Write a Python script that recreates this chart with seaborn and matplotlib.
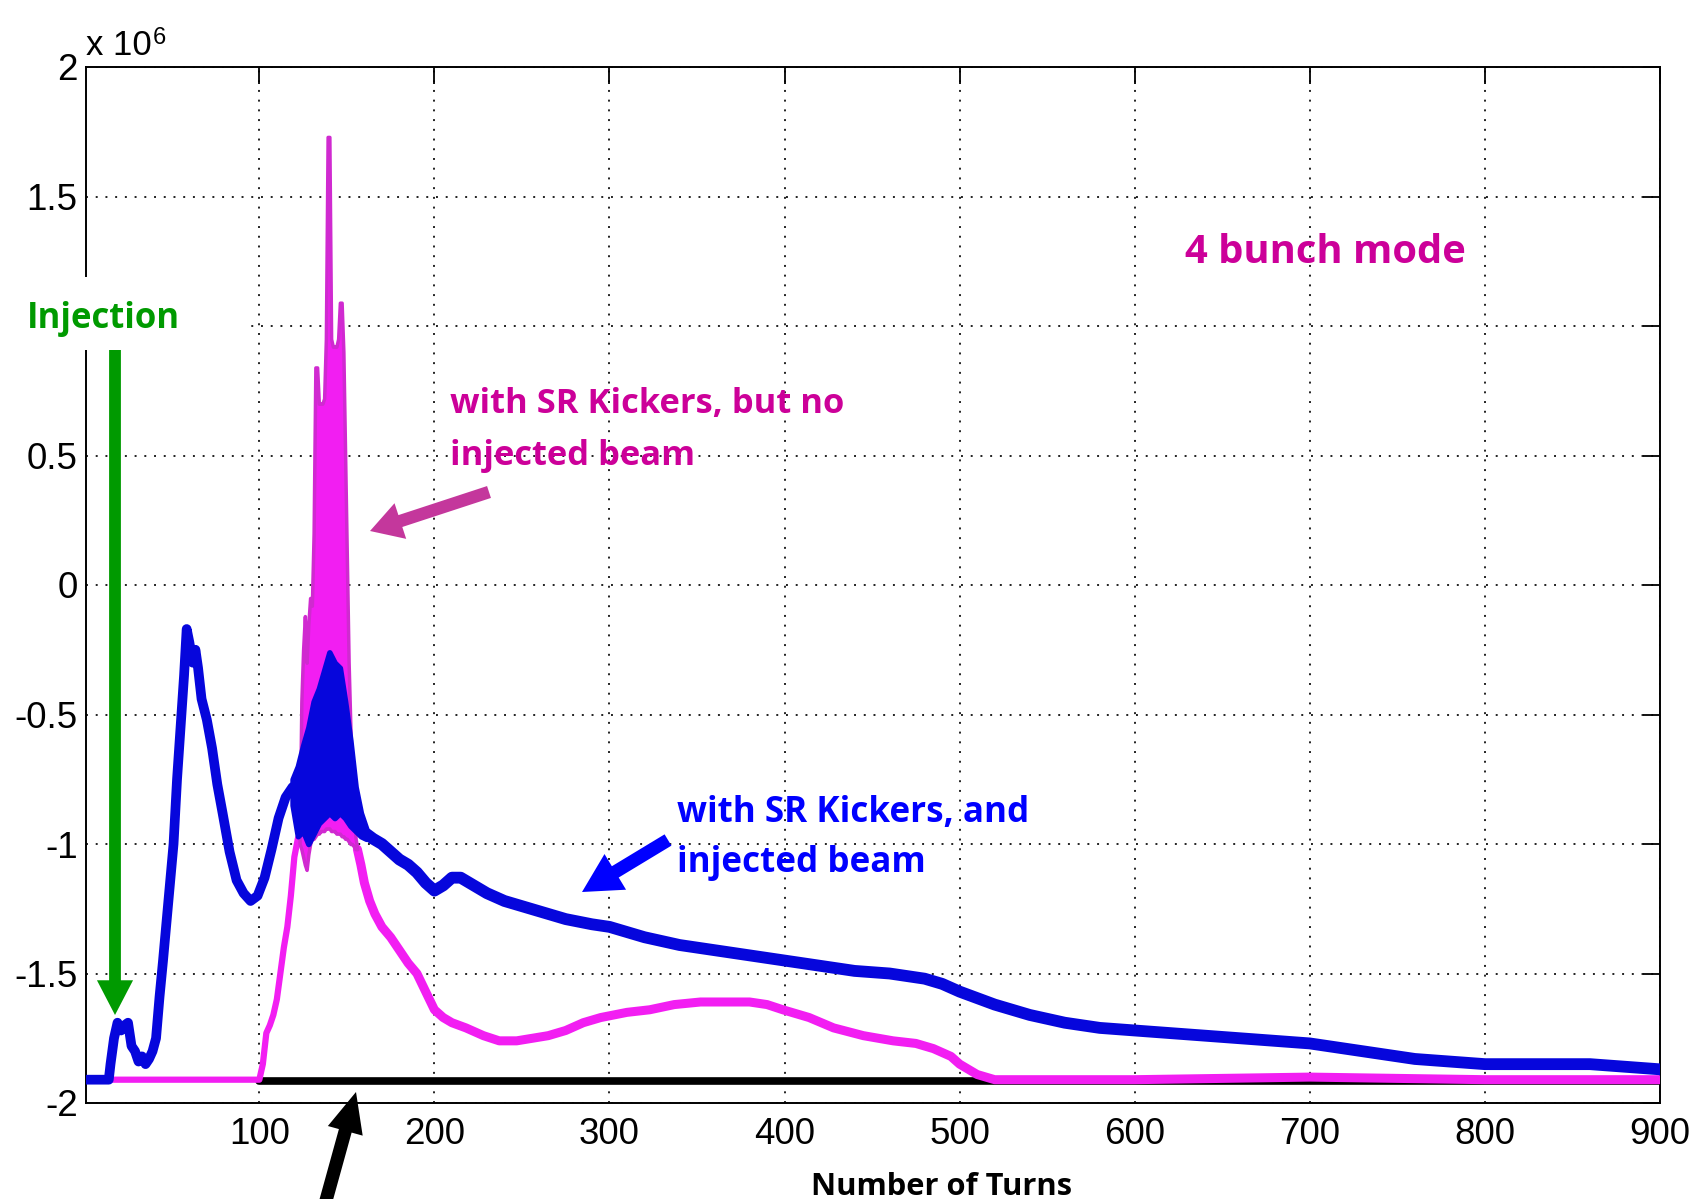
import matplotlib
matplotlib.use("Agg")
import matplotlib.pyplot as plt
import seaborn as sns
import pandas as pd
from matplotlib.patches import Rectangle, FancyArrowPatch

# ---------------- data (values in units of 1e6) ----------------
blue_turns = [1, 14, 15, 17, 19, 21, 23, 25, 27, 29, 31, 33, 35, 37, 39, 41, 43, 45, 47, 49,
              51, 53, 55, 57, 58.5, 60, 62, 63.5, 65, 67, 70, 73, 76, 79, 83, 87, 91, 95, 99,
              103, 107, 111, 115, 119]
blue_vals = [-1.91, -1.91, -1.85, -1.75, -1.69, -1.72, -1.70, -1.69, -1.78, -1.80, -1.84, -1.82,
             -1.85, -1.83, -1.80, -1.75, -1.59, -1.45, -1.30, -1.15, -1.00, -0.75, -0.55, -0.35,
             -0.17, -0.22, -0.30, -0.25, -0.32, -0.44, -0.52, -0.63, -0.77, -0.88, -1.03, -1.14,
             -1.19, -1.22, -1.20, -1.13, -1.02, -0.90, -0.82, -0.78]

blue_band_turns = [119, 122, 125, 128, 131, 134, 137, 140, 143, 146, 149, 152, 155, 158, 161]
blue_band_hi = [-0.75, -0.70, -0.62, -0.55, -0.45, -0.40, -0.33, -0.26, -0.30, -0.32, -0.45,
                -0.60, -0.78, -0.88, -0.94]
blue_band_lo = [-0.85, -0.97, -0.95, -1.00, -0.96, -0.92, -0.90, -0.88, -0.90, -0.88, -0.90,
                -0.93, -0.95, -0.97, -0.98]

blue_tail_turns = [161, 165, 170, 175, 180, 185, 190, 195, 200, 205, 210, 215, 220, 225, 230,
                   240, 250, 260, 275, 290, 300, 320, 340, 360, 380, 400, 420, 440, 460, 470,
                   480, 490, 500, 520, 540, 560, 580, 600, 620, 640, 660, 680, 700, 720, 740,
                   760, 780, 800, 820, 840, 860, 880, 900]
blue_tail_vals = [-0.96, -0.98, -1.00, -1.03, -1.06, -1.08, -1.11, -1.15, -1.18, -1.16, -1.13,
                  -1.13, -1.15, -1.17, -1.19, -1.22, -1.24, -1.26, -1.29, -1.31, -1.32, -1.36,
                  -1.39, -1.41, -1.43, -1.45, -1.47, -1.49, -1.50, -1.51, -1.52, -1.54, -1.57,
                  -1.62, -1.66, -1.69, -1.71, -1.72, -1.73, -1.74, -1.75, -1.76, -1.77, -1.79,
                  -1.81, -1.83, -1.84, -1.85, -1.85, -1.85, -1.85, -1.86, -1.87]

mag_turns = [1, 100, 102, 104, 106, 108, 110, 112, 114, 116, 118, 120, 122, 124]
mag_vals = [-1.91, -1.91, -1.85, -1.73, -1.70, -1.66, -1.60, -1.50, -1.40, -1.32, -1.20,
            -1.05, -0.98, -0.95]

mag_band_turns = [123, 124, 125, 126, 127, 128, 129, 130, 131, 132, 133, 134, 135, 136, 137,
                  138, 139, 140, 141, 142, 143, 144, 145, 146, 147, 148, 149, 150, 151, 152,
                  153, 154, 155, 156]
mag_band_hi = [-0.98, -0.45, -0.25, -0.12, -0.30, -0.15, -0.05, -0.08, 0.20, 0.84, 0.84, 0.70,
               0.70, 0.70, 0.72, 0.95, 1.73, 1.73, 0.95, 0.92, 0.92, 0.92, 0.95, 1.09, 1.09,
               0.90, 0.50, 0.10, -0.30, -0.55, -0.75, -0.88, -0.98, -1.02]
mag_band_lo = [-1.00, -1.02, -1.05, -1.08, -1.10, -1.04, -1.00, -0.98, -0.98, -0.97, -0.96,
               -0.96, -0.95, -0.95, -0.95, -0.94, -0.94, -0.94, -0.95, -0.95, -0.95, -0.96,
               -0.96, -0.96, -0.97, -0.97, -0.98, -0.98, -0.99, -1.00, -1.00, -1.01, -1.02,
               -1.02]

mag_tail_turns = [156, 158, 160, 163, 166, 170, 175, 180, 185, 190, 195, 200, 205, 210, 218,
                  228, 237, 247, 256, 265, 275, 285, 295, 310, 323, 337, 352, 366, 380, 390,
                  399, 414, 428, 445, 462, 475, 485, 495, 500, 505, 510, 515, 520, 540, 600,
                  700, 800, 900]
mag_tail_vals = [-1.02, -1.08, -1.15, -1.22, -1.27, -1.32, -1.36, -1.41, -1.46, -1.50, -1.57,
                 -1.64, -1.67, -1.69, -1.71, -1.74, -1.76, -1.76, -1.75, -1.74, -1.72, -1.69,
                 -1.67, -1.65, -1.64, -1.62, -1.61, -1.61, -1.61, -1.62, -1.64, -1.67, -1.71,
                 -1.74, -1.76, -1.77, -1.79, -1.82, -1.85, -1.87, -1.89, -1.90, -1.91, -1.91,
                 -1.91, -1.90, -1.91, -1.91]

black_turns = [100, 200, 300, 400, 500, 600, 700, 800, 900]
black_vals = [-1.915, -1.915, -1.915, -1.915, -1.915, -1.915, -1.915, -1.915, -1.915]

x_ticks = [100, 200, 300, 400, 500, 600, 700, 800, 900]
y_ticks = [-2, -1.5, -1, -0.5, 0, 0.5, 1, 1.5, 2]
# the "1" label is hidden behind the Injection label in the reference
y_tick_labels = ["-2", "-1.5", "-1", "-0.5", "0", "0.5", "", "1.5", "2"]

# ---------------- style ----------------
sns.set_theme(style="white")
plt.rcParams["font.family"] = ["Liberation Sans", "DejaVu Sans"]

W, H = 1692, 1199
fig = plt.figure(figsize=(W / 100, H / 100), dpi=100)
fig.patch.set_facecolor("white")


def fx(x):
    return x / W


def fy(y):
    return 1 - y / H


ax = fig.add_axes([fx(86), fy(1103), (1660 - 86) / W, (1103 - 67) / H])
ax.set_facecolor("white")

BLUE = "#0606DC"
MAG = "#F21EF2"
MAG_EDGE = "#D02AD0"

blue_df = pd.DataFrame({"turn": blue_turns, "value": blue_vals})
blue_tail_df = pd.DataFrame({"turn": blue_tail_turns, "value": blue_tail_vals})
mag_df = pd.DataFrame({"turn": mag_turns, "value": mag_vals})
mag_tail_df = pd.DataFrame({"turn": mag_tail_turns, "value": mag_tail_vals})
black_df = pd.DataFrame({"turn": black_turns, "value": black_vals})

sns.lineplot(data=black_df, x="turn", y="value", color="black", linewidth=5.5,
             estimator=None, sort=False, ax=ax, legend=False, zorder=2)

sns.lineplot(data=mag_df, x="turn", y="value", color=MAG, linewidth=4.5,
             estimator=None, sort=False, ax=ax, legend=False, zorder=3)
sns.lineplot(data=mag_tail_df, x="turn", y="value", color=MAG, linewidth=6.5,
             estimator=None, sort=False, ax=ax, legend=False, zorder=3)
ax.fill_between(mag_band_turns, mag_band_lo, mag_band_hi, facecolor=MAG,
                edgecolor=MAG_EDGE, linewidth=2.5, zorder=3)

sns.lineplot(data=blue_df, x="turn", y="value", color=BLUE, linewidth=7,
             estimator=None, sort=False, ax=ax, legend=False, zorder=4)
sns.lineplot(data=blue_tail_df, x="turn", y="value", color=BLUE, linewidth=8.5,
             estimator=None, sort=False, ax=ax, legend=False, zorder=4)
ax.fill_between(blue_band_turns, blue_band_lo, blue_band_hi, facecolor=BLUE,
                edgecolor=BLUE, linewidth=4, zorder=4)

ax.set_xlim(1, 900)
ax.set_ylim(-2, 2)
ax.set_xticks(x_ticks)
ax.set_xticklabels([str(t) for t in x_ticks])
ax.set_yticks(y_ticks)
ax.set_yticklabels(y_tick_labels)
ax.set_xlabel("")
ax.set_ylabel("")
ax.tick_params(direction="in", top=True, right=True, length=12, width=1.3,
               colors="black", labelsize=26.5)
ax.tick_params(axis="x", pad=10)
ax.tick_params(axis="y", pad=6)
ax.grid(True, linestyle=(0, (1, 4)), linewidth=1.4, color="#222222")
ax.set_axisbelow(True)
for s in ax.spines.values():
    s.set_color("black")
    s.set_linewidth(1.4)

# exponent label
fig.text(fx(86), fy(55), "x 10", fontsize=25, color="black", ha="left", va="baseline")
fig.text(fx(153), fy(44), "6", fontsize=17, color="black", ha="left", va="baseline")

# white box that covers the axis edge behind the Injection label
fig.add_artist(Rectangle((0, fy(350)), fx(248), (350 - 277) / H, transform=fig.transFigure,
                         facecolor="white", edgecolor="none", zorder=5))

ann_font = ["Open Sans", "DejaVu Sans"]
fig.text(fx(27), fy(328), "Injection", fontsize=25, fontweight="bold", color="#009A00",
         family=ann_font, ha="left", va="baseline", zorder=6)
fig.text(fx(1185), fy(263), "4 bunch mode", fontsize=28.8, fontweight="bold", color="#CC0099",
         family=ann_font, ha="left", va="baseline", zorder=6)
fig.text(fx(450), fy(413), "with SR Kickers, but no", fontsize=24.8, fontweight="bold",
         color="#CC0099", family=ann_font, ha="left", va="baseline", zorder=6)
fig.text(fx(450), fy(465), "injected beam", fontsize=24.8, fontweight="bold",
         color="#CC0099", family=ann_font, ha="left", va="baseline", zorder=6)
fig.text(fx(677), fy(822), "with SR Kickers, and", fontsize=25.2, fontweight="bold",
         color="#0000FF", family=ann_font, ha="left", va="baseline", zorder=6)
fig.text(fx(677), fy(872), "injected beam", fontsize=25.2, fontweight="bold",
         color="#0000FF", family=ann_font, ha="left", va="baseline", zorder=6)
fig.text(fx(941), fy(1195), "Number of Turns", fontsize=22.2, fontweight="bold",
         color="black", family=ann_font, ha="center", va="baseline", zorder=6)


def arrow(tail, tip, color, tw, hw, hl):
    fig.add_artist(FancyArrowPatch(
        (fx(tail[0]), fy(tail[1])), (fx(tip[0]), fy(tip[1])),
        transform=fig.transFigure,
        arrowstyle=f"simple,head_length={hl},head_width={hw},tail_width={tw}",
        mutation_scale=1, color=color, shrinkA=0, shrinkB=0, zorder=7, linewidth=0))


arrow((115, 350), (115, 1015), "#009A00", 8.5, 26, 25)
arrow((489, 492), (370, 531), "#C4379C", 9, 27, 23)
arrow((668, 840), (582, 892), "#0000FF", 9.5, 30, 28)
arrow((322, 1215), (356, 1092), "black", 9.5, 26, 29)

fig.savefig("out.png", dpi=100, facecolor="white")
